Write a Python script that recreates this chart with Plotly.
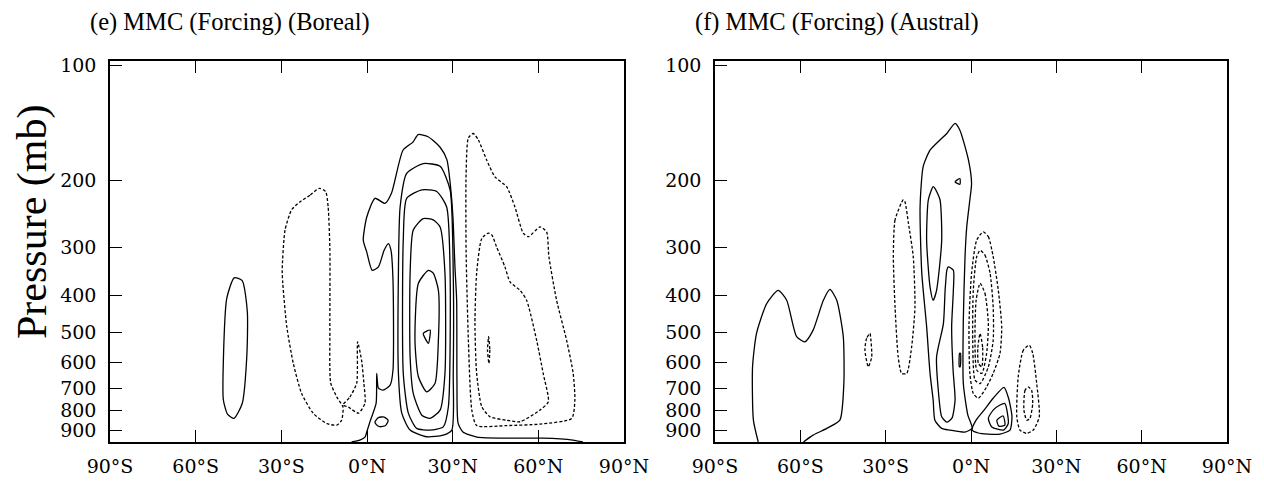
import numpy as np
import plotly.graph_objects as go

# ---------------- axes / labels ----------------
LAT_TICKS = [-90, -60, -30, 0, 30, 60, 90]
LAT_LABELS = ["90°S", "60°S", "30°S", "0°N", "30°N", "60°N", "90°N"]
P_TICKS = [100, 200, 300, 400, 500, 600, 700, 800, 900]
P_LABELS = ["100", "200", "300", "400", "500", "600", "700", "800", "900"]
P_TOP, P_BOTTOM = 97.6, 967
TITLES = ["(e) MMC (Forcing) (Boreal)", "(f) MMC (Forcing) (Austral)"]
Y_TITLE = "Pressure (mb)"

# ---------------- panel (e): contour lines (lat, pressure) ----------------
# solid = positive streamfunction, dashed = negative
e_pos1_lat = [-5.4, -2.5, -0.7, 0.0, 1.1, 3.2, 3.4, 4.0, 5.6, 8.1, 9.1, 9.1, 8.4, 7.5, 6.0, 4.0, 1.8, -0.1, -1.3, -0.1,
              2.8, 6.3, 8.6, 12.6, 16.1, 17.9, 21.4, 25.6, 28.0, 29.1, 30.1, 30.8, 31.4, 31.5, 31.9, 33.6, 38.5, 50.1,
              61.6, 72.1, 75.6]
e_pos1_p = [967, 956, 939, 906, 853, 765, 640, 699, 708, 687, 627, 365, 305, 293, 305, 337, 344, 308, 287, 250,
            223, 230, 216, 167, 159, 152, 154, 164, 177, 203, 250, 337, 412, 666, 863, 911, 939, 945,
            945, 956, 967]
e_pos2_lat = [19.7, 25.6, 29.1, 30.2, 30.2, 29.7, 26.7, 20.9, 15.1, 12.2, 11.0, 11.0, 11.6, 13.9]
e_pos2_p = [181, 184, 212, 350, 640, 900, 928, 937, 900, 814, 640, 350, 235, 192]
e_pos3_lat = [19.2, 24.4, 27.9, 29.1, 28.5, 26.7, 22.1, 17.4, 14.5, 12.7, 12.7, 13.9]
e_pos3_p = [212, 214, 235, 350, 782, 883, 900, 891, 814, 640, 287, 223]
e_pos4_lat = [19.7, 23.2, 25.6, 27.3, 27.3, 25.6, 22.1, 19.2, 16.2, 15.1, 15.1, 16.2]
e_pos4_p = [252, 254, 265, 350, 640, 798, 839, 823, 722, 579, 350, 270]
e_pos5_lat = [21.5, 23.2, 25.0, 25.0, 23.8, 20.9, 18.0, 16.8, 18.0]
e_pos5_p = [344, 350, 388, 524, 680, 715, 653, 524, 372]
e_pos6_lat = [19.7, 22.1, 21.5]
e_pos6_p = [503, 493, 534]
e_pos7_lat = [2.8, 4.0, 6.0, 7.4, 6.5, 4.5, 3.2]
e_pos7_p = [856, 835, 832, 850, 875, 882, 870]
e_pos8_lat = [-46.5, -43.7, -41.9, -42.1, -43.7, -46.6, -48.8, -50.3, -50.3, -49.1]
e_pos8_p = [360, 366, 442, 579, 767, 839, 819, 751, 591, 407]

e_neg1_lat = [-16.7, -20.0, -23.5, -26.4, -28.7, -29.7, -29.5, -28.1, -25.8, -22.9, -18.8, -14.1, -10.6, -8.9,
              -8.4, -10.6, -12.7, -13.0, -13.0, -13.6, -14.5]
e_neg1_p = [210, 219, 228, 239, 270, 344, 372, 483, 603, 722, 814, 865, 874, 848,
            784, 737, 678, 493, 305, 235, 214]
e_neg2_lat = [-8.4, -6.0, -3.6, -3.3, -1.9, -1.1, -0.7, -3.0, -6.5]
e_neg2_p = [774, 738, 678, 529, 591, 678, 765, 813, 784]
e_neg3_lat = [37.2, 39.0, 41.9, 44.8, 48.9, 51.8, 54.7, 56.5, 60.6, 62.9, 63.7, 66.4, 69.9, 72.2, 72.8, 71.7,
              60.6, 48.9, 38.4, 36.7, 35.5, 34.7, 34.7, 35.5]
e_neg3_p = [151, 157, 177, 196, 208, 235, 275, 281, 265, 273, 317, 412, 524, 640, 751, 839,
            868, 876, 876, 798, 524, 305, 192, 155]
e_neg4_lat = [42.5, 40.2, 38.4, 37.8, 38.4, 40.2, 43.1, 48.9, 53.6, 60.6, 63.5, 61.7, 59.4, 55.9, 53.6, 50.1,
              48.3, 45.4, 43.7]
e_neg4_p = [275, 284, 350, 474, 640, 782, 831, 848, 856, 798, 759, 640, 524, 412, 388, 369, 337, 299, 278]
e_neg5_lat = [42.6, 43.0, 42.7, 42.2]
e_neg5_p = [513, 556, 603, 556]

# ---------------- panel (f): contour lines (lat, pressure) ----------------
f_pos1_lat = [-74.8, -76.5, -76.8, -75.4, -71.8, -67.8, -64.8, -61.3, -58.4, -55.5, -51.9, -49.6, -47.2, -44.9,
              -44.7, -46.1, -50.7, -55.5, -58.9]
f_pos1_p = [967, 848, 615, 503, 420, 388, 412, 513, 529, 493, 412, 386, 412, 513, 680, 848, 891, 928, 967]
f_pos2_lat = [-5.6, -3.9, -0.9, 0.2, -0.4, -1.5, -2.1, -2.7, -2.7, -1.1, 0.4, -2.1, -7.4, -10.3, -12.7, -13.3,
              -14.4, -15.6, -17.3, -17.9, -16.8, -14.4, -10.9, -8.5]
f_pos2_p = [142, 148, 177, 204, 225, 265, 317, 464, 680, 823, 890, 911, 900, 891, 848, 751,
            640, 483, 350, 235, 184, 167, 157, 151]
f_pos3_lat = [-8.0, -6.2, -6.2, -6.8, -6.3, -5.6, -6.7, -8.5, -10.3, -11.5, -12.1, -9.7, -9.1, -8.5]
f_pos3_p = [337, 344, 388, 483, 627, 751, 838, 858, 831, 708, 579, 474, 388, 344]
f_pos4_lat = [-13.3, -12.7, -10.9, -10.3, -12.1, -13.3, -14.4, -15.6, -15.0]
f_pos4_p = [208, 210, 225, 287, 388, 412, 380, 287, 225]
f_pos5_lat = [-5.6, -3.9, -3.9]
f_pos5_p = [202, 198, 205]
f_pos6_lat = [-4.0, -3.7, -3.8, -4.1]
f_pos6_p = [567, 567, 615, 615]
f_pos7_lat = [11.6, 13.2, 14.4, 13.7, 10.2, 6.0, 2.5, 0.4, 1.8, 4.6, 7.8]
f_pos7_p = [696, 743, 831, 900, 922, 922, 916, 900, 848, 798, 743]
f_pos8_lat = [11.9, 13.1, 11.4, 7.3, 6.1, 7.8, 10.2]
f_pos8_p = [767, 865, 900, 883, 838, 798, 774]
f_pos9_lat = [9.1, 11.3, 11.9, 9.8]
f_pos9_p = [848, 827, 874, 879]

f_neg1_lat = [-35.5, -36.7, -37.3, -36.1, -34.9, -35.3]
f_neg1_p = [503, 518, 556, 615, 579, 513]
f_neg2_lat = [-23.8, -26.7, -27.3, -26.7, -25.6, -24.4, -22.6, -20.9, -19.7, -20.3, -22.0, -23.2]
f_neg2_p = [225, 254, 317, 429, 579, 640, 640, 548, 429, 317, 259, 228]
f_neg3_lat = [4.3, 6.1, 7.8, 9.6, 10.8, 10.2, 7.8, 5.5, 2.6, 0.8, -0.4, -0.7, 0.2, 2.0]
f_neg3_p = [273, 281, 317, 388, 483, 567, 640, 694, 743, 722, 640, 474, 350, 287]
f_neg4_lat = [3.2, 4.9, 6.7, 7.8, 7.8, 6.1, 3.2, 1.4, 0.6, 0.8, 2.0]
f_neg4_p = [305, 314, 350, 429, 524, 615, 680, 666, 524, 388, 317]
f_neg5_lat = [3.2, 4.9, 6.1, 5.5, 3.8, 2.0, 1.4, 1.8]
f_neg5_p = [372, 395, 474, 567, 640, 627, 524, 412]
f_neg6_lat = [3.2, 4.1, 3.8, 2.6, 2.4]
f_neg6_p = [503, 548, 615, 603, 548]
f_neg7_lat = [20.5, 18.4, 16.6, 16.1, 17.2, 19.6, 21.9, 24.0, 23.1, 21.7]
f_neg7_p = [540, 556, 653, 831, 900, 918, 900, 831, 680, 567]
f_neg8_lat = [20.1, 19.0, 18.6, 19.6, 20.7, 21.7, 21.3]
f_neg8_p = [694, 708, 798, 848, 839, 767, 708]

# (panel, lat, p, dashed, closed)
CONTOURS = [
    (0, e_pos1_lat, e_pos1_p, False, False),
    (0, e_pos2_lat, e_pos2_p, False, True),
    (0, e_pos3_lat, e_pos3_p, False, True),
    (0, e_pos4_lat, e_pos4_p, False, True),
    (0, e_pos5_lat, e_pos5_p, False, True),
    (0, e_pos6_lat, e_pos6_p, False, True),
    (0, e_pos7_lat, e_pos7_p, False, True),
    (0, e_pos8_lat, e_pos8_p, False, True),
    (0, e_neg1_lat, e_neg1_p, True, True),
    (0, e_neg2_lat, e_neg2_p, True, True),
    (0, e_neg3_lat, e_neg3_p, True, True),
    (0, e_neg4_lat, e_neg4_p, True, True),
    (0, e_neg5_lat, e_neg5_p, True, True),
    (1, f_pos1_lat, f_pos1_p, False, False),
    (1, f_pos2_lat, f_pos2_p, False, True),
    (1, f_pos3_lat, f_pos3_p, False, True),
    (1, f_pos4_lat, f_pos4_p, False, True),
    (1, f_pos5_lat, f_pos5_p, False, True),
    (1, f_pos6_lat, f_pos6_p, False, True),
    (1, f_pos7_lat, f_pos7_p, False, True),
    (1, f_pos8_lat, f_pos8_p, False, True),
    (1, f_pos9_lat, f_pos9_p, False, True),
    (1, f_neg1_lat, f_neg1_p, True, True),
    (1, f_neg2_lat, f_neg2_p, True, True),
    (1, f_neg3_lat, f_neg3_p, True, True),
    (1, f_neg4_lat, f_neg4_p, True, True),
    (1, f_neg5_lat, f_neg5_p, True, True),
    (1, f_neg6_lat, f_neg6_p, True, True),
    (1, f_neg7_lat, f_neg7_p, True, True),
    (1, f_neg8_lat, f_neg8_p, True, True),
]

fig = go.Figure()
for panel, lat, p, dashed, closed in CONTOURS:
    xs, ys = list(lat), list(p)
    if closed:
        xs.append(xs[0])
        ys.append(ys[0])
    fig.add_trace(go.Scatter(
        x=xs, y=ys, mode="lines",
        xaxis="x" if panel == 0 else "x2",
        yaxis="y" if panel == 0 else "y2",
        line=dict(color="black", width=1.3, dash="3px,2px" if dashed else "solid",
                  shape="spline", smoothing=0.6),
        hoverinfo="skip", showlegend=False))

# ---------------- layout (page pixel geometry) ----------------
PAGE_W, PAGE_H = 1264, 483
BODY = 8                                   # default page body margin
W, H = PAGE_W - BODY, PAGE_H - BODY        # figure size
PLOT_L, PLOT_R, PLOT_T, PLOT_B = 110, 1227, 61, 442   # plot-area edges on the page
ML, MR = PLOT_L - BODY, PAGE_W - PLOT_R
MT, MB = PLOT_T - BODY, PAGE_H - PLOT_B
PW, PH = W - ML - MR, H - MT - MB


def px_x(px):
    return (px - PLOT_L) / PW


def px_y(py):
    return (PLOT_B - py) / PH


TICK_FONT = dict(family="DejaVu Serif", size=19, color="black")
TEXT_FONT_FAMILY = "Liberation Serif"


def xaxis_cfg(x0, x1, anchor):
    return dict(domain=[px_x(x0), px_x(x1)], anchor=anchor, range=[-90, 90], automargin=False,
                tickmode="array", tickvals=LAT_TICKS, ticktext=LAT_LABELS,
                ticks="inside", ticklen=12, tickwidth=1.3, tickcolor="black",
                showline=True, linecolor="black", linewidth=1.5, mirror="ticks",
                showgrid=False, zeroline=False, tickfont=TICK_FONT,
                ticklabelstandoff=6, fixedrange=True)


def yaxis_cfg(anchor):
    return dict(domain=[0, 1], anchor=anchor, type="log", automargin=False,
                range=[np.log10(P_BOTTOM), np.log10(P_TOP)],
                tickmode="array", tickvals=P_TICKS, ticktext=P_LABELS,
                ticks="inside", ticklen=12, tickwidth=1.3, tickcolor="black",
                showline=True, linecolor="black", linewidth=1.5, mirror=True,
                showgrid=False, zeroline=False, tickfont=TICK_FONT,
                ticklabelstandoff=8, fixedrange=True)


fig.update_layout(
    width=W, height=H, margin=dict(l=ML, r=MR, t=MT, b=MB, autoexpand=False),
    paper_bgcolor="white", plot_bgcolor="white",
    xaxis=xaxis_cfg(110, 624, "y"),
    yaxis=yaxis_cfg("x"),
    xaxis2=xaxis_cfg(715, 1227, "y2"),
    yaxis2=yaxis_cfg("x2"),
    annotations=[
        dict(text=TITLES[0], xref="paper", yref="paper", x=px_x(88), y=px_y(22),
             xanchor="left", yanchor="middle", showarrow=False,
             font=dict(family=TEXT_FONT_FAMILY, size=24.5, color="black")),
        dict(text=TITLES[1], xref="paper", yref="paper", x=px_x(693), y=px_y(22),
             xanchor="left", yanchor="middle", showarrow=False,
             font=dict(family=TEXT_FONT_FAMILY, size=24.5, color="black")),
        dict(text=Y_TITLE, xref="paper", yref="paper", x=px_x(33), y=px_y(222),
             xanchor="center", yanchor="middle", textangle=-90, showarrow=False,
             font=dict(family=TEXT_FONT_FAMILY, size=42, color="black")),
    ],
)

fig.write_html("out.html")
